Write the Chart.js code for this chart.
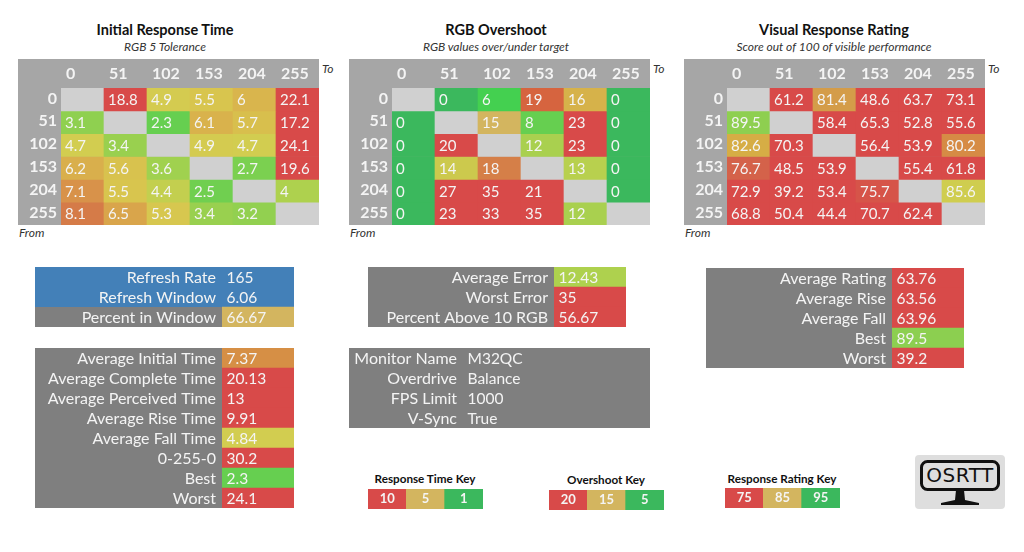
<!DOCTYPE html>
<html>
<head>
<meta charset="utf-8">
<script src="https://cdn.jsdelivr.net/npm/chart.js@4"></script>
<style>
  html, body { margin: 0; padding: 0; background: #fff; width: 1024px; height: 552px; overflow: hidden; }
  body { position: relative; font-family: Lato, sans-serif; }
  canvas { position: absolute; display: block; }
  .txt { position: absolute; white-space: nowrap; line-height: 1; }
  .title { font-weight: bold; font-size: 14.5px; color: #111; transform: translate(-50%, -50%); }
  .sub { font-style: italic; font-size: 12px; color: #333; transform: translate(-50%, -50%); }
  .note { font-style: italic; font-size: 12px; color: #333; transform: translateY(-50%); }
  .key { font-weight: bold; font-size: 11.7px; color: #111; transform: translate(-50%, -50%); }
  #logo { position: absolute; left: 915px; top: 455px; width: 90px; height: 54px; }
  #logoText { position: absolute; left: 920px; top: 460px; width: 80px; height: 30px; text-align: center;
    font: 20px/31px "DejaVu Sans", sans-serif; letter-spacing: 0.5px; color: #111; }
</style>
</head>
<body>
<svg id="logo" viewBox="0 0 90 54">
  <rect x="0" y="0" width="90" height="54" rx="4" fill="#dedede"/>
  <rect x="6.5" y="6.5" width="77" height="28" rx="6" fill="none" stroke="#111" stroke-width="3"/>
  <path d="M41 35h8l1 10 14 3v2H26v-2l14-3z" fill="#111"/>
</svg>
<div id="logoText">OSRTT</div>
<script>
const levels = ['0', '51', '102', '153', '204', '255'];

const responseTimes = [
  [null, 18.8, 4.9, 5.5, 6, 22.1],
  [3.1, null, 2.3, 6.1, 5.7, 17.2],
  [4.7, 3.4, null, 4.9, 4.7, 24.1],
  [6.2, 5.6, 3.6, null, 2.7, 19.6],
  [7.1, 5.5, 4.4, 2.5, null, 4],
  [8.1, 6.5, 5.3, 3.4, 3.2, null]
];
const overshoot = [
  [null, 0, 6, 19, 16, 0],
  [0, null, 15, 8, 23, 0],
  [0, 20, null, 12, 23, 0],
  [0, 14, 18, null, 13, 0],
  [0, 27, 35, 21, null, 0],
  [0, 23, 33, 35, 12, null]
];
const ratings = [
  [null, 61.2, 81.4, 48.6, 63.7, 73.1],
  [89.5, null, 58.4, 65.3, 52.8, 55.6],
  [82.6, 70.3, null, 56.4, 53.9, 80.2],
  [76.7, 48.5, 53.9, null, 55.4, 61.8],
  [72.9, 39.2, 53.4, 75.7, null, 85.6],
  [68.8, 50.4, 44.4, 70.7, 62.4, null]
];

const refreshLabels = ['Refresh Rate', 'Refresh Window', 'Percent in Window'];
const refreshValues = ['165', '6.06', '66.67'];
const timeLabels = ['Average Initial Time', 'Average Complete Time', 'Average Perceived Time', 'Average Rise Time', 'Average Fall Time', '0-255-0', 'Best', 'Worst'];
const timeValues = ['7.37', '20.13', '13', '9.91', '4.84', '30.2', '2.3', '24.1'];
const errorLabels = ['Average Error', 'Worst Error', 'Percent Above 10 RGB'];
const errorValues = ['12.43', '35', '56.67'];
const monitorLabels = ['Monitor Name', 'Overdrive', 'FPS Limit', 'V-Sync'];
const monitorValues = ['M32QC', 'Balance', '1000', 'True'];
const ratingLabels = ['Average Rating', 'Average Rise', 'Average Fall', 'Best', 'Worst'];
const ratingValues = ['63.76', '63.56', '63.96', '89.5', '39.2'];

const responseKey = ['10', '5', '1'];
const overshootKey = ['20', '15', '5'];
const ratingKey = ['75', '85', '95'];

const RED = '#d84a49', GOLD = '#d3b55f', GREEN = '#3bb85d', LIME = '#66cf50';
const PANEL = '#7f7f7f', HEADER = '#a6a6a6', EMPTY = '#d0d0d0', BLUE = '#4380b8', TEXT = '#f4f4f4';

const timeRamp = [[1, GREEN], [2.3, LIME], [3.1, '#8fd050'], [4, '#aed14e'], [4.7, '#d2cd50'], [5.5, '#d8c54e'], [6.2, '#d9af4c'], [7.1, '#d8924a'], [8.1, '#d57b48'], [10, RED]];
const overshootRamp = [[0, GREEN], [6, '#44d050'], [8, LIME], [12, '#a9d04f'], [13, '#b8d04e'], [14, '#ccc94d'], [15, GOLD], [16, '#d6b24a'], [18, '#d57f48'], [19, '#d6643f'], [20, RED]];
const ratingRamp = [[75, RED], [76.7, '#d4624a'], [80.2, '#d68b45'], [81.4, '#d49c49'], [82.6, '#d6ad45'], [85.6, '#cfcd4f'], [89.5, '#8ecf50'], [95, GREEN]];

function hexToRgb(h) {
  return [1, 3, 5].map(i => parseInt(h.slice(i, i + 2), 16));
}

function rampColor(v, ramp) {
  if (v === null) return EMPTY;
  if (v <= ramp[0][0]) return ramp[0][1];
  for (let i = 1; i < ramp.length; i++) {
    if (v <= ramp[i][0]) {
      const t = (v - ramp[i - 1][0]) / (ramp[i][0] - ramp[i - 1][0]);
      const a = hexToRgb(ramp[i - 1][1]), b = hexToRgb(ramp[i][1]);
      return `rgb(${a.map((c, k) => Math.round(c + (b[k] - c) * t)).join(',')})`;
    }
  }
  return ramp[ramp.length - 1][1];
}

function addCanvas(left, top, width, height, background) {
  const c = document.createElement('canvas');
  c.width = width;
  c.height = height;
  c.style.left = left + 'px';
  c.style.top = top + 'px';
  c.style.width = width + 'px';
  c.style.height = height + 'px';
  if (background) c.style.background = background;
  document.body.appendChild(c);
  return c;
}

function addText(cls, text, x, y) {
  const d = document.createElement('div');
  d.className = 'txt ' + cls;
  d.textContent = text;
  d.style.left = x + 'px';
  d.style.top = y + 'px';
  document.body.appendChild(d);
}

// fixed axis band, without the room chart.js keeps for overhanging tick labels
function fixAxis(s, size) {
  if (s.isHorizontal()) s.height = size; else s.width = size;
  s.paddingTop = s.paddingBottom = s.paddingLeft = s.paddingRight = 0;
}

// writes dataset.values[i] inside each bar
const cellText = {
  id: 'cellText',
  afterDatasetsDraw(chart, args, opts) {
    const ctx = chart.ctx;
    ctx.save();
    ctx.fillStyle = TEXT;
    ctx.font = opts.font;
    ctx.textAlign = opts.align;
    ctx.textBaseline = 'middle';
    chart.data.datasets.forEach((ds, d) => {
      chart.getDatasetMeta(d).data.forEach((bar, i) => {
        const v = ds.values[i];
        if (v === null) return;
        const p = bar.getProps(['x', 'y', 'base', 'width', 'height'], true);
        let x, y;
        if (opts.align === 'center') {
          x = p.x;
          y = p.y + p.height / 2;
        } else if (chart.options.indexAxis === 'y') {
          x = p.base + opts.pad;
          y = p.y;
        } else {
          x = p.x - p.width / 2 + opts.pad;
          y = (p.y + p.base) / 2;
        }
        ctx.fillText(String(v), x, y + opts.shift);
      });
    });
    ctx.restore();
  }
};

// paints whole rows of a stat panel, label column included
const rowFill = {
  id: 'rowFill',
  beforeDraw(chart, args, opts) {
    const y = chart.scales.y, ctx = chart.ctx;
    const h = y.height / y.ticks.length;
    (opts.colors || []).forEach((col, i) => {
      ctx.fillStyle = col;
      ctx.fillRect(0, y.getPixelForValue(i) - h / 2, chart.width, h);
    });
  }
};

function heatmap(left, values, ramp) {
  const canvas = addCanvas(left, 59, 301, 166, HEADER);
  new Chart(canvas, {
    type: 'bar',
    data: {
      labels: levels,
      datasets: values.map(row => ({
        data: row.map(() => 1),
        values: row,
        backgroundColor: row.map(v => rampColor(v, ramp)),
        barPercentage: 1,
        categoryPercentage: 1
      }))
    },
    plugins: [cellText],
    options: {
      responsive: false,
      animation: false,
      layout: { padding: 0 },
      plugins: {
        legend: { display: false },
        tooltip: { enabled: false },
        cellText: { font: '15px Lato', align: 'left', pad: 4, shift: 1 }
      },
      scales: {
        x: {
          position: 'top',
          stacked: true,
          grid: { display: false, drawTicks: false },
          border: { display: false },
          afterFit(s) { fixAxis(s, 29); },
          ticks: { color: TEXT, align: 'start', labelOffset: -16.5, padding: 5, maxRotation: 0, autoSkip: false, font: { family: 'Lato', size: 16, weight: 'bold' } }
        },
        y: { stacked: true, reverse: true, min: 0, max: 6, display: false },
        rows: {
          type: 'category',
          labels: levels,
          position: 'left',
          offset: true,
          grid: { display: false, drawTicks: false },
          border: { display: false },
          afterFit(s) { fixAxis(s, 43); },
          ticks: { color: TEXT, padding: 4, labelOffset: -1, autoSkip: false, font: { family: 'Lato', size: 16, weight: 'bold' } }
        }
      }
    }
  });
}

function statPanel(left, top, width, labelWidth, labels, values, colors, rowColors) {
  const canvas = addCanvas(left, top, width, labels.length * 20, PANEL);
  new Chart(canvas, {
    type: 'bar',
    data: {
      labels: labels,
      datasets: [{ data: values.map(() => 1), values: values, backgroundColor: colors, barPercentage: 1, categoryPercentage: 1 }]
    },
    plugins: [rowFill, cellText],
    options: {
      indexAxis: 'y',
      responsive: false,
      animation: false,
      layout: { padding: 0 },
      plugins: {
        legend: { display: false },
        tooltip: { enabled: false },
        rowFill: { colors: rowColors },
        cellText: { font: '15.5px Lato', align: 'left', pad: 4.5, shift: 1 }
      },
      scales: {
        x: { min: 0, max: 1, display: false },
        y: {
          grid: { display: false, drawTicks: false },
          border: { display: false },
          afterFit(s) { fixAxis(s, labelWidth); },
          ticks: { color: TEXT, padding: 6, labelOffset: 1, autoSkip: false, font: { family: 'Lato', size: 16 } }
        }
      }
    }
  });
}

function keyChart(left, top, labels) {
  const canvas = addCanvas(left, top, 115, 20);
  new Chart(canvas, {
    type: 'bar',
    data: {
      labels: labels,
      datasets: [{ data: labels.map(() => 1), values: labels, backgroundColor: [RED, GOLD, GREEN], barPercentage: 1, categoryPercentage: 1 }]
    },
    plugins: [cellText],
    options: {
      responsive: false,
      animation: false,
      layout: { padding: 0 },
      plugins: {
        legend: { display: false },
        tooltip: { enabled: false },
        cellText: { font: 'bold 13px Lato', align: 'center', pad: 0, shift: 0 }
      },
      scales: {
        x: { display: false },
        y: { min: 0, max: 1, display: false }
      }
    }
  });
}

// --- heatmaps ---
heatmap(18, responseTimes, timeRamp);
heatmap(349, overshoot, overshootRamp);
heatmap(684, ratings, ratingRamp);

addText('title', 'Initial Response Time', 165, 30);
addText('sub', 'RGB 5 Tolerance', 165, 47);
addText('title', 'RGB Overshoot', 496, 30);
addText('sub', 'RGB values over/under target', 496, 47);
addText('title', 'Visual Response Rating', 834, 30);
addText('sub', 'Score out of 100 of visible performance', 834, 47);

[[322, 19], [653, 350], [988, 685]].forEach(([toX, fromX]) => {
  addText('note', 'To', toX, 68.5);
  addText('note', 'From', fromX, 233);
});

// --- stat panels ---
statPanel(35, 267, 259, 187, refreshLabels, refreshValues, [BLUE, BLUE, GOLD], [BLUE, BLUE]);
statPanel(35, 348, 259, 187, timeLabels, timeValues, ['#d68f45', RED, RED, RED, '#d2cd50', RED, LIME, RED]);
statPanel(368, 267, 258, 186, errorLabels, errorValues, ['#aed14e', RED, RED]);
statPanel(349, 348, 301, 114, monitorLabels, monitorValues, monitorValues.map(() => PANEL));
statPanel(706, 268, 258, 186, ratingLabels, ratingValues, [RED, RED, RED, '#8ccf50', RED]);

// --- keys ---
keyChart(368, 489, responseKey);
keyChart(549, 490, overshootKey);
keyChart(725, 488, ratingKey);
addText('key', 'Response Time Key', 425, 479);
addText('key', 'Overshoot Key', 606, 480);
addText('key', 'Response Rating Key', 782, 479);
</script>
</body>
</html>
